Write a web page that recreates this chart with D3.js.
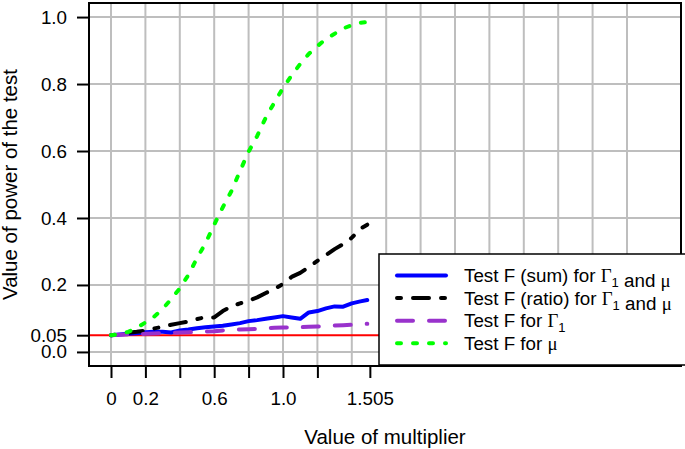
<!DOCTYPE html>
<html>
<head>
<meta charset="utf-8">
<script src="https://cdn.jsdelivr.net/npm/d3@7"></script>
<style>
  body { margin: 0; background: #fff; }
  svg { display: block; font-family: "Liberation Sans", Arial, Helvetica, sans-serif; }
</style>
</head>
<body>
<svg id="chart" width="685" height="449"></svg>
<script>
// multiplier values (x)
const multiplier = [0, 0.05, 0.1, 0.15, 0.2, 0.25, 0.3, 0.35, 0.4, 0.45, 0.5, 0.55, 0.6, 0.65, 0.7,
  0.75, 0.8, 0.85, 0.9, 0.95, 1.0, 1.05, 1.1, 1.15, 1.2, 1.25, 1.3, 1.35, 1.4, 1.45, 1.49];

// power of each test
const powerSum = [0.05, 0.052, 0.054, 0.056, 0.059, 0.06, 0.06, 0.058, 0.064, 0.067, 0.071, 0.074, 0.076,
  0.078, 0.082, 0.086, 0.092, 0.095, 0.099, 0.103, 0.107, 0.103, 0.099, 0.118, 0.122, 0.13, 0.136,
  0.135, 0.145, 0.151, 0.155];
const powerRatio = [0.05, 0.053, 0.057, 0.06, 0.064, 0.07, 0.075, 0.081, 0.086, 0.091, 0.098, 0.104, 0.103,
  0.122, 0.136, 0.145, 0.153, 0.163, 0.176, 0.188, 0.203, 0.224, 0.236, 0.253, 0.272, 0.289, 0.307,
  0.322, 0.341, 0.368, 0.38];
const powerGamma = [0.05, 0.051, 0.052, 0.053, 0.054, 0.055, 0.056, 0.057, 0.058, 0.059, 0.06, 0.061, 0.062,
  0.064, 0.066, 0.067, 0.068, 0.069, 0.071, 0.072, 0.073, 0.073, 0.074, 0.075, 0.076, 0.077, 0.079,
  0.08, 0.081, 0.083, 0.084];
const powerMu = [0.05, 0.053, 0.06, 0.072, 0.088, 0.105, 0.128, 0.158, 0.19, 0.23, 0.28, 0.325, 0.38,
  0.432, 0.48, 0.54, 0.598, 0.645, 0.70, 0.745, 0.788, 0.826, 0.86, 0.89, 0.913, 0.935, 0.95,
  0.966, 0.976, 0.983, 0.985];

const xTicks = [0, 0.2, 0.4, 0.6, 0.8, 1.0, 1.2, 1.505];
const xTickLabels = ['0', '0.2', '', '0.6', '', '1.0', '', '1.505'];
const yTicks = [0, 0.05, 0.2, 0.4, 0.6, 0.8, 1.0];
const yTickLabels = ['0.0', '0.05', '0.2', '0.4', '0.6', '0.8', '1.0'];
const xGrid = d3.range(0, 3.01, 0.2);
const yGrid = [0, 0.2, 0.4, 0.6, 0.8, 1.0];
const alphaLevel = 0.05;

const series = [
  { name: 'sum', values: powerSum, color: '#0000ff', dash: null },
  { name: 'ratio', values: powerRatio, color: '#000000', dash: '4,12,16,12' },
  { name: 'gamma', values: powerGamma, color: '#9932cc', dash: '16,16' },
  { name: 'mu', values: powerMu, color: '#00ff00', dash: '4,12' }
];

const svg = d3.select('#chart');
const plot = { left: 89, right: 681, top: 3, bottom: 366 };

const x = d3.scaleLinear().domain([-0.1279, 3.314]).range([plot.left, plot.right]);
const y = d3.scaleLinear().domain([-0.042, 1.042]).range([plot.bottom, plot.top]);

svg.append('defs').append('clipPath').attr('id', 'clip')
  .append('rect')
  .attr('x', plot.left).attr('y', plot.top)
  .attr('width', plot.right - plot.left).attr('height', plot.bottom - plot.top);

// grid
const grid = svg.append('g').attr('stroke', '#bebebe').attr('stroke-width', 2);
grid.selectAll('line.v').data(xGrid).enter().append('line')
  .attr('x1', d => x(d)).attr('x2', d => x(d))
  .attr('y1', plot.top).attr('y2', plot.bottom);
grid.selectAll('line.h').data(yGrid).enter().append('line')
  .attr('y1', d => y(d)).attr('y2', d => y(d))
  .attr('x1', plot.left).attr('x2', plot.right);

// reference level
svg.append('line')
  .attr('x1', plot.left).attr('x2', plot.right)
  .attr('y1', y(alphaLevel)).attr('y2', y(alphaLevel))
  .attr('stroke', '#ff0000').attr('stroke-width', 2);

// lines
const line = d3.line().x((d, i) => x(multiplier[i])).y(d => y(d));
const lines = svg.append('g').attr('clip-path', 'url(#clip)');
series.forEach(s => {
  lines.append('path')
    .attr('d', line(s.values))
    .attr('fill', 'none')
    .attr('stroke', s.color)
    .attr('stroke-width', 4)
    .attr('stroke-linecap', 'round')
    .attr('stroke-linejoin', 'round')
    .attr('stroke-dasharray', s.dash);
});

// axes
const xAxis = svg.append('g')
  .attr('transform', `translate(0,${plot.bottom})`)
  .call(d3.axisBottom(x).tickValues(xTicks)
    .tickFormat((d, i) => xTickLabels[i]).tickSize(12).tickSizeOuter(0).tickPadding(14));
const yAxis = svg.append('g')
  .attr('transform', `translate(${plot.left},0)`)
  .call(d3.axisLeft(y).tickValues(yTicks)
    .tickFormat((d, i) => yTickLabels[i]).tickSize(12).tickSizeOuter(0).tickPadding(10));

[xAxis, yAxis].forEach(a => {
  a.select('.domain').remove();
  a.selectAll('.tick line').attr('stroke', '#000').attr('stroke-width', 2);
  a.selectAll('.tick text').attr('fill', '#000')
    .style('font-size', '18.8px')
    .style('font-family', '"Liberation Sans", Arial, sans-serif');
});

// plot box
svg.append('rect')
  .attr('x', plot.left).attr('y', plot.top)
  .attr('width', plot.right - plot.left).attr('height', plot.bottom - plot.top)
  .attr('fill', 'none').attr('stroke', '#000').attr('stroke-width', 2);

// axis titles
svg.append('text')
  .attr('x', (plot.left + plot.right) / 2).attr('y', 444)
  .attr('text-anchor', 'middle').style('font-size', '20.5px')
  .text('Value of multiplier');
svg.append('text')
  .attr('transform', `translate(17,${(plot.top + plot.bottom) / 2}) rotate(-90)`)
  .attr('text-anchor', 'middle').style('font-size', '20.5px')
  .text('Value of power of the test');

// legend
const legend = svg.append('g');
legend.append('rect')
  .attr('x', 379).attr('y', 254).attr('width', 320).attr('height', 111)
  .attr('fill', '#fff').attr('stroke', '#000').attr('stroke-width', 1.5);

const legendLabels = [
  [['Test F (sum) for '], ['Γ', 'g'], ['1', 'sub'], [' and '], ['μ', 'g']],
  [['Test F (ratio) for '], ['Γ', 'g'], ['1', 'sub'], [' and '], ['μ', 'g']],
  [['Test F for '], ['Γ', 'g'], ['1', 'sub']],
  [['Test F for '], ['μ', 'g']]
];

series.forEach((s, i) => {
  const cy = 275.5 + i * 22.6;
  legend.append('line')
    .attr('x1', 397).attr('x2', 446).attr('y1', cy).attr('y2', cy)
    .attr('stroke', s.color).attr('stroke-width', 4)
    .attr('stroke-linecap', 'round')
    .attr('stroke-dasharray', s.dash);
  const t = legend.append('text')
    .attr('x', 464).attr('y', cy + 6.5)
    .style('font-size', '18.8px');
  legendLabels[i].forEach(([txt, kind]) => {
    const span = t.append('tspan').text(txt);
    if (kind === 'g') span.style('font-family', '"Liberation Serif", "DejaVu Serif", serif');
    if (kind === 'sub') {
      span.attr('dy', 5).style('font-size', '13px');
      // next piece back on the baseline
      t.append('tspan').attr('dy', -5).text('');
    }
  });
});
</script>
</body>
</html>
